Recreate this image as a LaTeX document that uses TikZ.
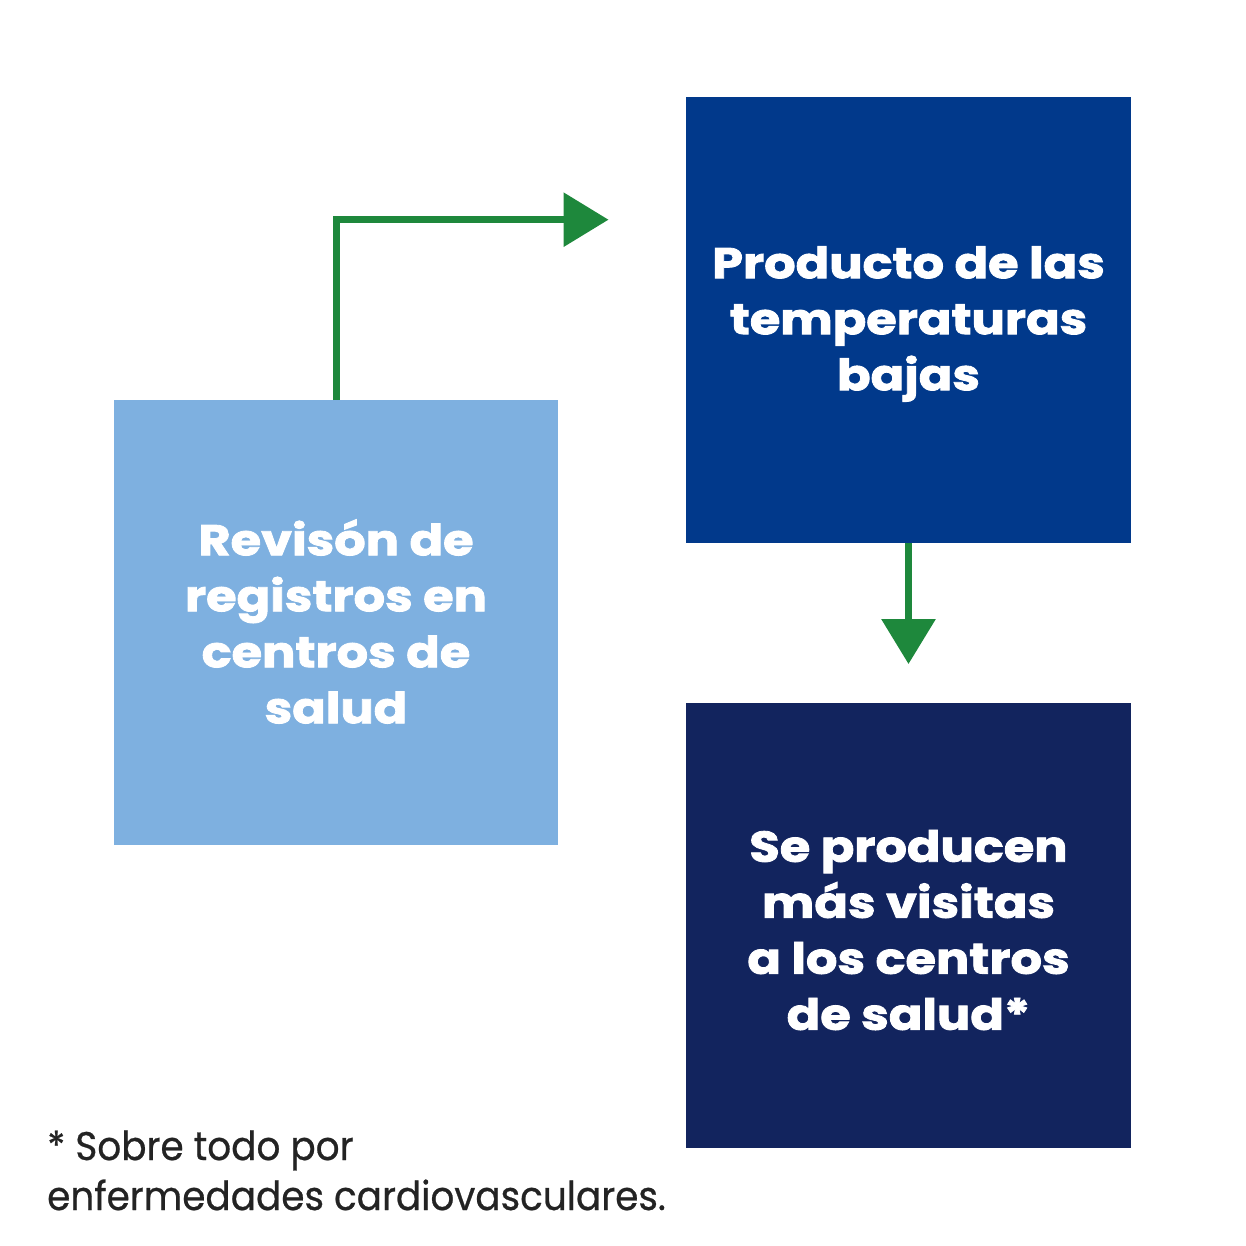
\documentclass[tikz,border=0pt]{standalone}
\usepackage{fontspec}
\setmainfont{Poppins}
\newfontfamily\boxfont[FakeBold=2,FakeStretch=1.15]{Poppins}
\newfontfamily\notefont[FakeBold=0.6,FakeStretch=0.935]{Poppins}
\usetikzlibrary{arrows.meta}
\definecolor{lightbox}{HTML}{7EB0E0}
\definecolor{midbox}{HTML}{01398B}
\definecolor{darkbox}{HTML}{12245E}
\definecolor{arrowgreen}{HTML}{1E883C}
\definecolor{notegray}{HTML}{232323}
\begin{document}
\begin{tikzpicture}[x=1pt,y=-1pt,
  boxtext/.style={text=white,align=center,font=\boxfont\fontsize{43}{56}\selectfont\bfseries},
  flow/.style={draw=arrowgreen,line width=6.5pt,-{Triangle[length=45pt,width=53pt]}},
  note/.style={text=notegray,align=left,anchor=base west,inner sep=0pt,font=\notefont\fontsize{40}{50}\selectfont}]
\useasboundingbox (0,0) rectangle (1245,1246);
\fill[lightbox] (114,400) rectangle (558,845);
\fill[midbox] (686,97) rectangle (1131,543);
\fill[darkbox] (686,703) rectangle (1131,1148);
\node[boxtext] (lbox) at (336,621.5) {Revisón de\\registros en\\centros de\\salud};
\node[boxtext] (tbox) at (908.5,324) {Producto de las\\temperaturas\\bajas};
\node[boxtext] (bbox) at (908.5,930) {Se producen\\más visitas\\a los centros\\de salud*};
\coordinate (lstart) at (336.5,400);
\coordinate (tend) at (608.5,219.7);
\coordinate (tstart) at (908.5,543);
\coordinate (bend) at (908.5,664);
\draw[flow] (lstart) |- (tend);
\draw[flow] (tstart) -- (bend);
\node[note] (fn) at (47,1210) {* Sobre todo por\\enfermedades cardiovasculares.};
\end{tikzpicture}
\end{document}
